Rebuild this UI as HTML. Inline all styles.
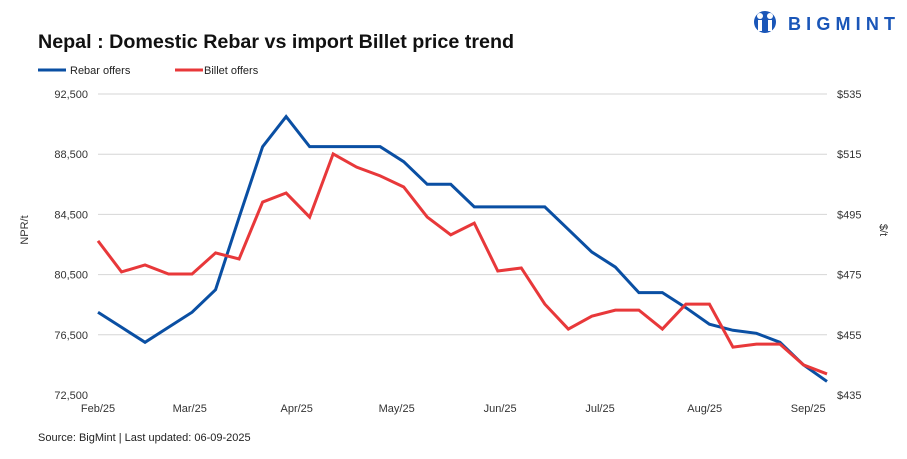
<!DOCTYPE html>
<html><head><meta charset="utf-8"><style>
body{margin:0;background:#fff;width:907px;height:454px;overflow:hidden;font-family:"Liberation Sans",sans-serif}
</style></head><body>
<svg id="c" width="907" height="454" xmlns="http://www.w3.org/2000/svg" font-family="Liberation Sans, sans-serif">
<text x="38" y="48" font-size="19.7" font-weight="bold" fill="#111" textLength="476">Nepal : Domestic Rebar vs import Billet price trend</text>
<g>
<circle cx="765" cy="22" r="11" fill="#1a56b8"/>
<circle cx="760" cy="16" r="3" fill="#fff"/><circle cx="770" cy="16" r="3" fill="#fff"/>
<rect x="758" y="20" width="4" height="11" fill="#fff"/><rect x="768" y="20" width="4" height="11" fill="#fff"/>
<text x="788" y="30" font-size="18" font-weight="bold" fill="#1a56b8" textLength="107">BIGMINT</text>
</g>
<g>
<line x1="38" y1="70" x2="66" y2="70" stroke="#0a4fa3" stroke-width="3"/>
<text x="70" y="74" font-size="11" fill="#222">Rebar offers</text>
<line x1="175" y1="70" x2="203" y2="70" stroke="#e8383a" stroke-width="3"/>
<text x="204" y="74" font-size="11" fill="#222">Billet offers</text>
</g>
<g id="grid"></g><g id="axes"></g><g id="series"></g>
<text transform="translate(28,230) rotate(-90)" text-anchor="middle" font-size="11" fill="#333">NPR/t</text>
<text transform="translate(880,230) rotate(90)" text-anchor="middle" font-size="11" fill="#333">$/t</text>
<text x="38" y="441" font-size="11" fill="#222">Source: BigMint | Last updated: 06-09-2025</text>
</svg>
<script>
const rebar=[78000,77000,76000,77000,78000,79500,84300,89000,91000,89000,89000,89000,89000,88000,86500,86500,85000,85000,85000,85000,83500,82000,81000,79300,79300,78300,77200,76800,76600,76000,74500,73400];
const billet=[486.2,475.9,478.2,475.2,475.2,482.2,480.2,499.1,502.1,494.1,515.1,510.7,507.8,504.1,494.1,488.2,492.1,476.2,477.2,465.2,456.9,461.2,463.2,463.2,456.9,465.2,465.2,450.9,451.9,451.9,445,442];
const leftTicks=[72500,76500,80500,84500,88500,92500];
const rightTicks=[435,455,475,495,515,535];
const monthLabels=["Feb/25","Mar/25","Apr/25","May/25","Jun/25","Jul/25","Aug/25","Sep/25"];
const monthIdx=[0,3.9,8.45,12.7,17.1,21.35,25.8,30.2];
const NS="http://www.w3.org/2000/svg";
const x=i=>98+i*(827-98)/(rebar.length-1);
const yl=v=>395-(v-72500)*(395-94)/20000;
const yr=v=>395-(v-435)*(395-94)/100;
function mk(t,a,p){const e=document.createElementNS(NS,t);for(const k in a)e.setAttribute(k,a[k]);document.getElementById(p).appendChild(e);return e;}
leftTicks.forEach((v,i)=>{
 if(i>0){const g=mk('line',{x1:98,x2:827,y1:yl(v),y2:yl(v),stroke:'#d6d6d6','stroke-width':1},'grid');
 
 }
 const t=mk('text',{x:88,y:yl(v)+4,'text-anchor':'end','font-size':11,fill:'#333'},'axes');t.textContent=v.toLocaleString('en-US');
 
 
});
rightTicks.forEach(v=>{
 const t=mk('text',{x:837,y:yr(v)+4,'font-size':11,fill:'#333'},'axes');t.textContent='$'+v;
 
 
});
monthLabels.forEach((m,i)=>{
 const t=mk('text',{x:x(monthIdx[i]),y:412,'text-anchor':'middle','font-size':11,fill:'#333'},'axes');t.textContent=m;
 
 
});
const p1=mk('polyline',{points:rebar.map((v,i)=>x(i)+','+yl(v)).join(' '),fill:'none',stroke:'#0a4fa3','stroke-width':3,'stroke-linejoin':'miter'},'series');


const p2=mk('polyline',{points:billet.map((v,i)=>x(i)+','+yr(v)).join(' '),fill:'none',stroke:'#e8383a','stroke-width':3},'series');


</script>
</body></html>
